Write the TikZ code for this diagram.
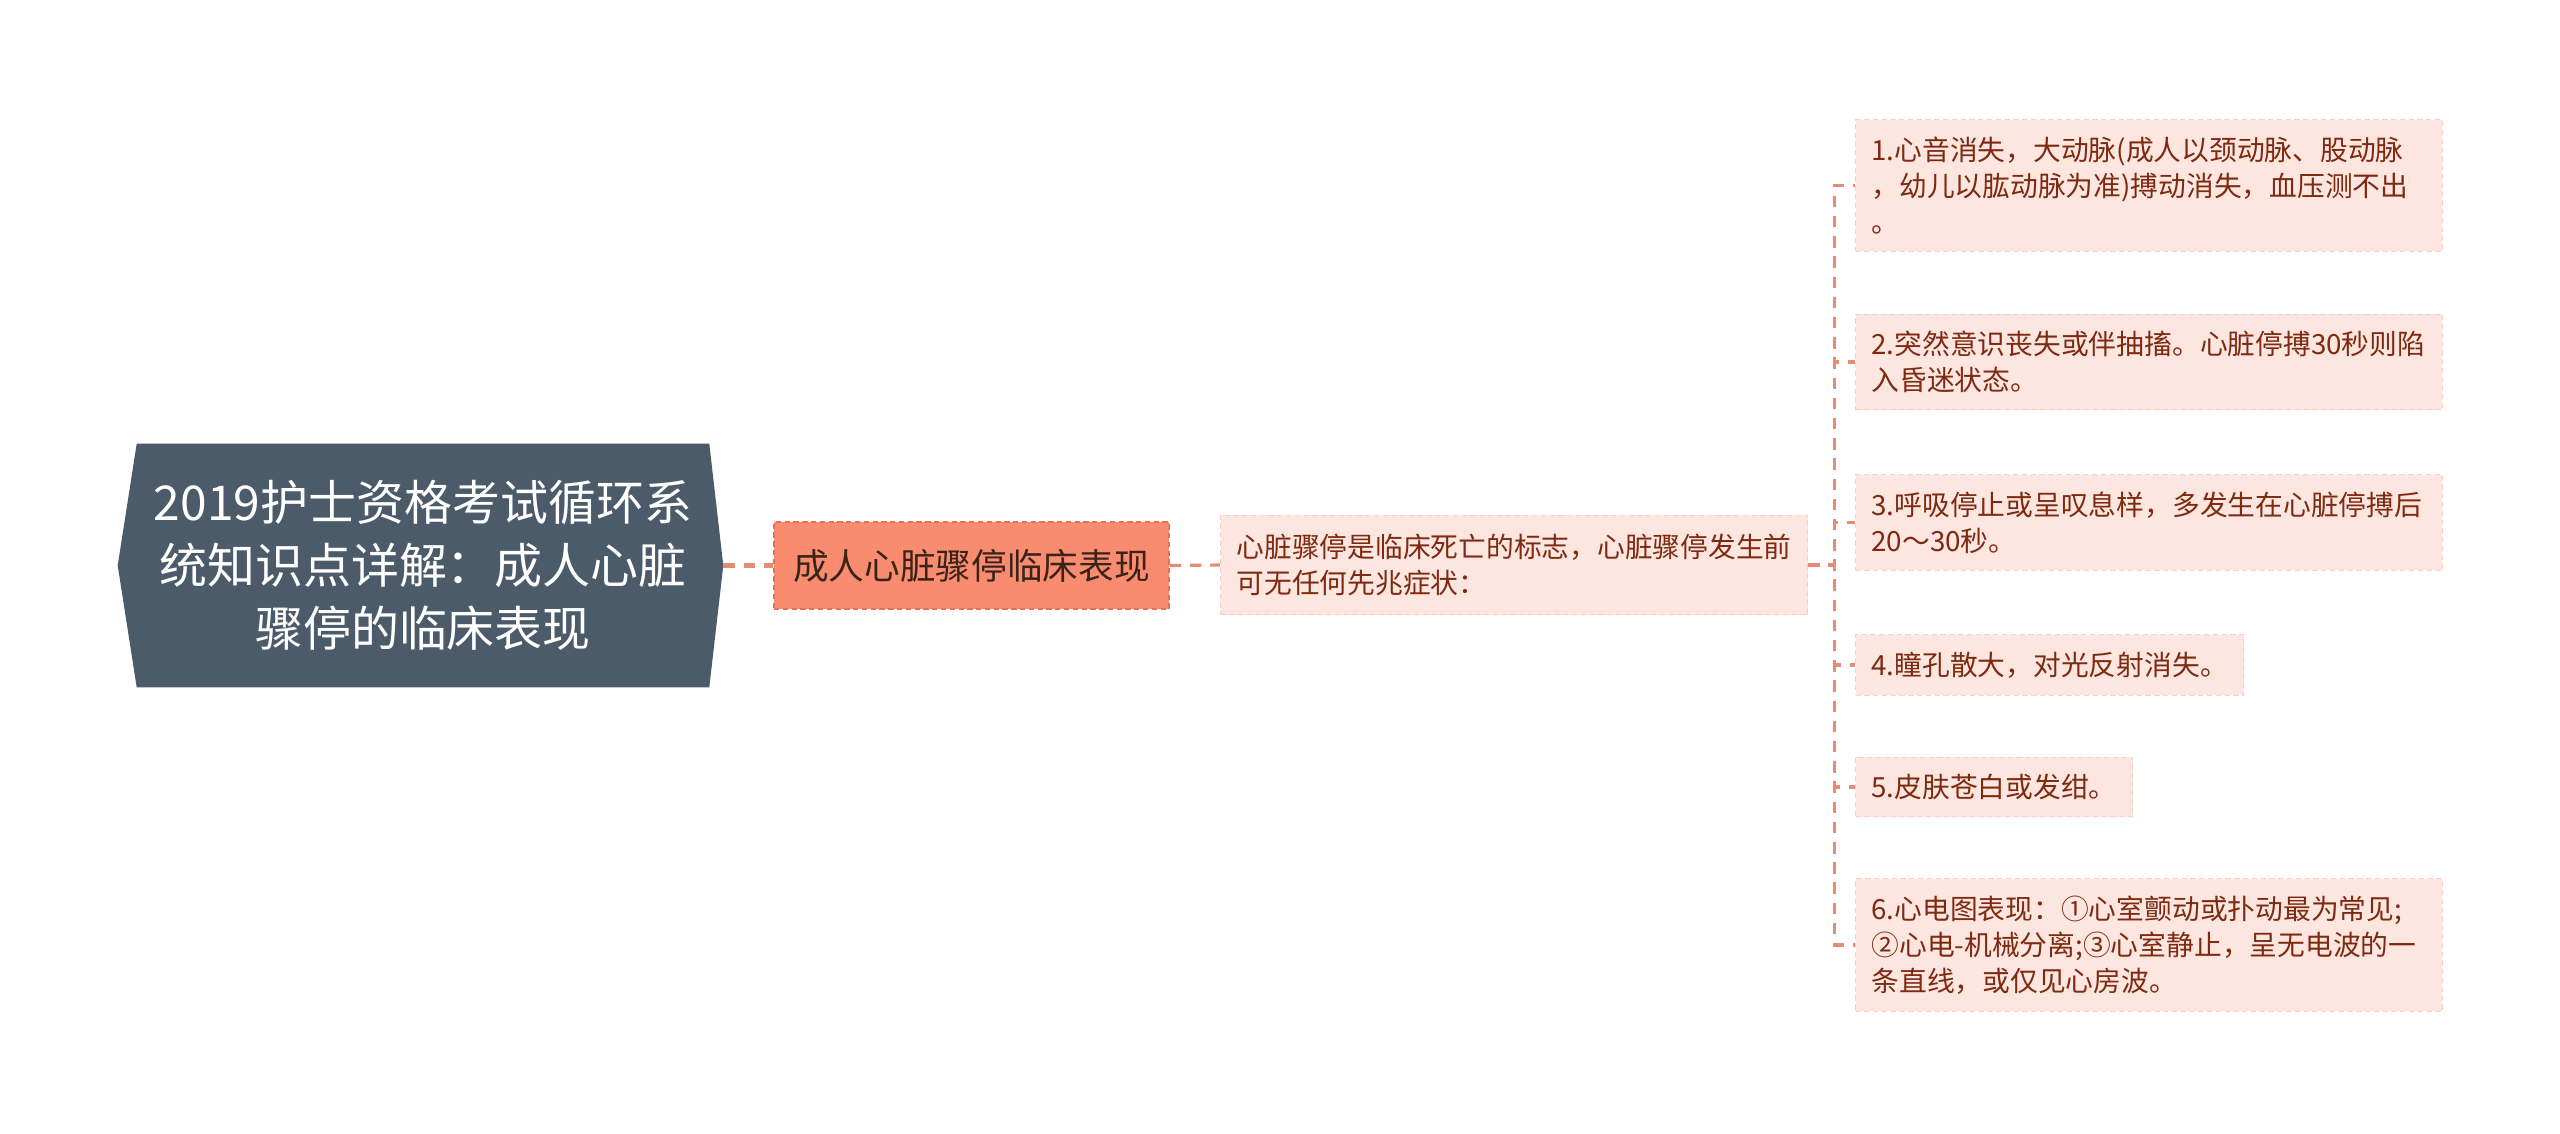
\documentclass[tikz,border=0pt]{standalone}
\usepackage{fontspec}
\setmainfont{Noto Sans CJK SC}
\usetikzlibrary{calc}
\usetikzlibrary{backgrounds}

\definecolor{rootFill}{HTML}{4B5B6A}
\definecolor{subFill}{HTML}{F98B6E}
\definecolor{subLine}{HTML}{E8705A}
\definecolor{subText}{HTML}{3A2419}
\definecolor{leafFill}{HTML}{FDE6E0}
\definecolor{leafLine}{HTML}{F6D0C6}
\definecolor{leafText}{HTML}{7D2A10}
\definecolor{lineCol}{HTML}{E48C74}

\begin{document}
\begin{tikzpicture}[x=0.02cm, y=-0.02cm]
	\useasboundingbox (0,0) rectangle (2560,1133);

	% colour scheme for connectors
	\def\options{lineCol}

	\tikzset{
		link/.style={\options, line width=1.8pt, dash pattern=on 6.5pt off 5pt},
		leaf/.style={fill=leafFill, draw=leafLine, line width=0.6pt, dash pattern=on 3pt off 2pt,
			text=leafText, align=left, anchor=west, inner xsep=0.32cm, inner ysep=0.34cm,
			font=\fontsize{15.8pt}{20.5pt}\selectfont},
		wideleaf/.style={leaf, text width=11.1cm}
	}

	% root topic
	\node[text=white, align=center, inner sep=0pt, minimum width=11.44cm, minimum height=4.86cm,
		font=\fontsize{27.3pt}{35.9pt}\selectfont] (root) at (423,565.5)
		{2019护士资格考试循环系\\统知识点详解：成人心脏\\骤停的临床表现};
	\coordinate (rootTipL) at ($(root.west)-(19,0)$);
	\coordinate (rootTipR) at ($(root.east)+(14,0)$);
	\begin{scope}[on background layer]
		\fill[rootFill] (root.north west) -- (root.north east) -- (rootTipR)
			-- (root.south east) -- (root.south west) -- (rootTipL) -- cycle;
	\end{scope}

	% sub topic
	\node[fill=subFill, draw=subLine, line width=0.8pt, dash pattern=on 3pt off 2pt, text=subText,
		minimum width=7.9cm, minimum height=1.74cm,
		font=\fontsize{20.3pt}{26pt}\selectfont] (sub) at (971.5,565.5) {成人心脏骤停临床表现};

	% description
	\node[leaf, inner ysep=0.38cm] (info) at (1220,565)
		{心脏骤停是临床死亡的标志，心脏骤停发生前\\可无任何先兆症状：};

	% the six signs
	\node[wideleaf] (item1) at (1855,185.5)
		{1.心音消失，大动脉(成人以颈动脉、股动脉\\，幼儿以肱动脉为准)搏动消失，血压测不出\\。};
	\node[wideleaf] (item2) at (1855,362)
		{2.突然意识丧失或伴抽搐。心脏停搏30秒则陷\\入昏迷状态。};
	\node[wideleaf] (item3) at (1855,522.5)
		{3.呼吸停止或呈叹息样，多发生在心脏停搏后\\20～30秒。};
	\node[leaf] (item4) at (1855,665) {4.瞳孔散大，对光反射消失。};
	\node[leaf] (item5) at (1855,787) {5.皮肤苍白或发绀。};
	\node[wideleaf] (item6) at (1855,945)
		{6.心电图表现：①心室颤动或扑动最为常见;\\②心电-机械分离;③心室静止，呈无电波的一\\条直线，或仅见心房波。};

	% connectors
	\draw[link, line width=3pt] (rootTipR) -- (sub.west);
	\draw[link] (sub.east) -- (info.west);
	\coordinate (bus) at ($(info.east)+(26,0)$);
	\foreach \k in {1,...,6} {
		\draw[link] (info.east) -- (bus) |- (item\k.west);
	}

\end{tikzpicture}
\end{document}
